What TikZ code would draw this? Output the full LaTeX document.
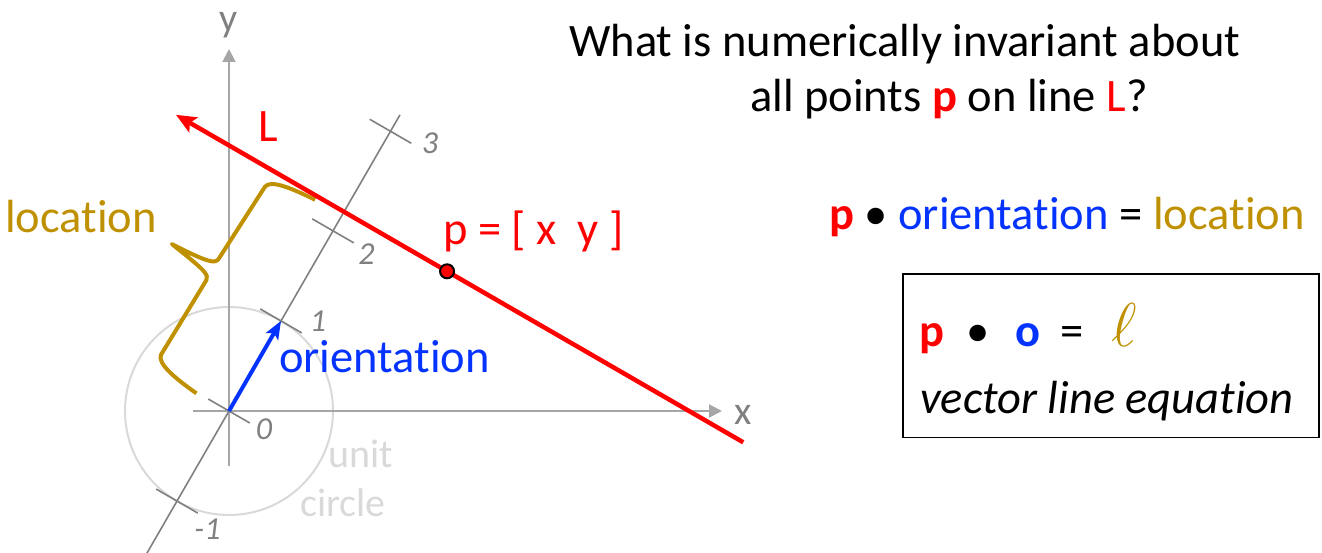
\documentclass[tikz,border=0pt]{standalone}
\usepackage{fontspec}
\setmainfont{Carlito}[RawFeature={-liga,-clig,-calt,-dlig}]
\usetikzlibrary{arrows.meta, positioning}
\definecolor{mRed}{HTML}{FF0000}
\definecolor{mBlue}{HTML}{0433FF}
\definecolor{mGold}{HTML}{BF9000}
\definecolor{mGray}{HTML}{A6A6A6}
\definecolor{mDarkGray}{HTML}{808080}
\definecolor{mLightGray}{HTML}{D9D9D9}

\begin{document}
\begin{tikzpicture}[x=1pt, y=1pt,
    every node/.style={inner sep=0pt, font=\fontsize{46.5}{56}\selectfont},
    axis/.style={line width=2pt, mGray, -{Triangle[length=13pt,width=13pt]}},
    ruler/.style={line width=1.6pt, mDarkGray},
    ticklab/.style={mDarkGray, font=\fontsize{32}{38}\selectfont\itshape},
    axislab/.style={mDarkGray, font=\fontsize{40}{48}\selectfont},
    faint/.style={mLightGray, font=\fontsize{40}{48}\selectfont}]
    \useasboundingbox (0,0) rectangle (1322,552);
    % x and y axes, unit circle
    \coordinate (O) at (229,141);
    \coordinate (xfrom) at (193,141);
    \coordinate (xto) at (722,141);
    \coordinate (yfrom) at (229,86);
    \coordinate (yto) at (229,503);
    \draw[mLightGray, line width=2pt] (O) circle (104pt);
    \draw[axis] (xfrom) -- (xto);
    \draw[axis] (yfrom) -- (yto);
    \node[axislab, anchor=base] (xlab) at (743,128) {x};
    \node[axislab, anchor=base] (ylab) at (229,520) {y};
    \node[faint, anchor=base west] (unit) at (328,85) {unit};
    \node[faint, anchor=base west] (circ) at (300,36) {circle};
    % axis along the orientation
    \begin{scope}[shift={(O)}, rotate=60]
      \coordinate (nfrom) at (-165,0);
      \coordinate (nto) at (342,0);
      \coordinate (otip) at (104,0);
      \coordinate (Lhead) at (230,194);
      \coordinate (Ltail) at (230,-461);
      \coordinate (p) at (230,-119);
      \draw[ruler] (nfrom) -- (nto);
      \foreach \t in {-104,0,104,208,323}
        \draw[ruler] (\t,-24) -- (\t,24);
      \draw[mGold, line width=4pt, line join=round]
        (-1,37) .. controls (1,60) and (5,87) .. (15,87) -- (102,85)
        .. controls (108,85) and (110,92) .. (116,133)
        .. controls (118,94) and (120,85) .. (127,85) -- (212,81)
        .. controls (221,80) and (224,60) .. (226,31);
    \end{scope}
    \foreach \x/\y/\lab in {264/123/0, 318/231/1, 366.5/298/2, 430/409/3, 207.5/23/-1}
      \node[ticklab] (tick\lab) at (\x,\y) {\lab};
    % line L, orientation and point p
    \draw[mRed, line width=4.5pt, -{Stealth[length=20pt,width=17pt,inset=4pt]}] (Ltail) -- (Lhead);
    \draw[mBlue, line width=4pt, -{Stealth[length=18pt,width=14pt,inset=4pt]}] (O) -- (otip);
    \node[circle, fill=mRed, draw=black, line width=2pt, minimum size=14pt] (pt) at (p) {};
    \node[mRed, anchor=base west] (Llab) at (258,410) {L};
    \node[mRed, anchor=base west] (plab) at (443,307) {p = [ x\ \ y ]};
    \node[mBlue, anchor=base west] (olab) at (279,179) {orientation};
    \node[mGold, anchor=base west] (loclab) at (5,319) {location};
    % question and equations
    \node[anchor=base west] (q1) at (569,495) {What is numerically invariant about};
    \node[anchor=base west] (q2) at (750,440) {all points \textbf{\color{mRed}p} on line {\color{mRed}L}?};
    \node[anchor=base west] (rule) at (829,322) {\textbf{\color{mRed}p} • {\color{mBlue}orientation} = {\color{mGold}location}};
    \node[draw=black, line width=1.5pt, minimum width=416pt, minimum height=163pt, anchor=south west] (box) at (902,114) {};
    \node[anchor=base west] (eq) at (919,205) {\textbf{\color{mRed}p}\hspace{22pt}•\hspace{26pt}\textbf{\color{mBlue}o}\hspace{20pt}=\hspace{28pt}{\color{mGold}\resizebox{!}{43pt}{$\ell$}}};
    \node[anchor=base west, font=\fontsize{46.5}{56}\selectfont\itshape] (eqname) at (920,139) {vector line equation};
\end{tikzpicture}
\end{document}
